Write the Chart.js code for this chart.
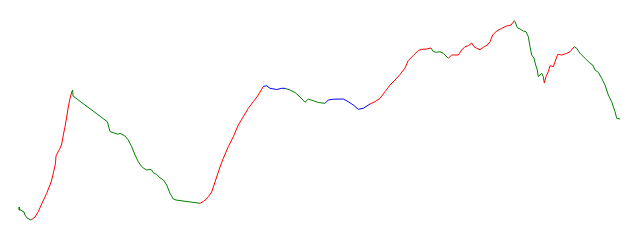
<!DOCTYPE html>
<html>
<head>
<meta charset="utf-8">
<script src="https://cdn.jsdelivr.net/npm/chart.js@4/dist/chart.umd.min.js"></script>
<style>
  html, body { margin: 0; padding: 0; background: #fff; }
  #wrap { width: 640px; height: 240px; position: relative; }
</style>
</head>
<body>
<div id="wrap"><canvas id="c"></canvas></div>
<script>
// Trading day index of each sample
const days = [
  0,0.3,2,3,5,6,8,10,12,
  16,19.3,22.7,26,27.7,29.3,31,32.7,34.3,35.5,36.5,37,39,41,42.7,44.3,46,47.7,49.3,51,52.7,53.7,
  54,88.3,89.5,91,96,99.3,101,106,109.3,112.7,116,119.3,122.7,124.3,127.7,131,132.7,134.3,137.7,141,144.3,147.7,151,154.3,157,181,
  184.3,187.7,189.5,192.7,196,198,201,204.3,209.3,214.3,219.3,224.3,229.3,234.3,239.3,244.3,
  247.7,251,257.7,262.7,266,
  271,276,281,286,289.3,294.3,299.3,306,
  309.3,314.3,324.3,329.3,334.3,339.3,344.3,351,
  356,361,366,371,376,381,386,389.3,394.3,399.3,402.7,407.7,412,
  414.3,417.7,421,424.3,429.3,
  432.7,439.3,442.7,446,449.3,452.7,455,457.7,461,464.3,468.3,471,473.7,477.7,482.7,487.7,492,495.3,
  496,498.3,501,504.3,507,509.3,511,512.7,515,516.7,518.3,519.3,522.7,524.3,525.3,
  527,529.3,531,534.3,536,538.7,542.7,547.7,551,555.3,
  557.7,561,566,571,573.7,576,579.3,582.7,586,589.3,592.7,596,597.7,601
];
// Price level of each sample
const values = [
  33,30,30,29,28,25,22,21,20,
  23,28.5,36,43,46.7,51,55,60,66.7,72,77,84,88,91.7,96,105,113.3,123,133,141.5,148,150,
  144,118.3,114,108.5,106.7,105.7,106.7,104,100,93.3,85,78.3,73.3,72,70,70.5,70,67.3,65.5,62.2,60.2,55,46.7,41,40,36.7,
  38.5,41.2,43.5,48,58,64,73,81.7,93.3,103.3,115,123.3,131.7,138.3,145,153.5,
  154.3,151.7,150.5,151.7,151.7,
  150,147.5,143,137.8,140.8,139.3,137.5,136.7,
  140,140.8,141,138.3,135,130.7,131.7,136,
  138.3,141.7,148.3,155,160,165.5,172,179.5,184.5,189.5,190.7,191,192,
  188.3,187.7,188.3,186.7,181.7,
  185,185,190,193.3,194.3,197,193.3,191.7,190.3,192.7,195,198.3,205,209,211.7,214,215,219.3,
  218.3,212.3,211,209,208.3,203.3,193.3,185,181.7,175,170,163.3,166.7,163.3,157,
  163.3,168.3,174.3,173.3,178.3,185.7,185,186.7,188.3,193.3,
  191.7,186.7,181.7,176.7,175,170,167.7,161.7,155,145,138.3,128.3,121.7,121
];
// Last sample index of each trend and its kind
const trendEnds  = [8, 30, 56, 72, 77, 85, 93, 106, 111, 129, 144, 154, 168];
const trendKinds = ['down','up','down','up','flat','down','flat','up','down','up','down','up','down'];
const kindColors = { up: '#ff0000', down: '#008000', flat: '#0000ff' };

function trendColor(i) {
  for (let t = 0; t < trendEnds.length; t++) {
    if (i < trendEnds[t]) return kindColors[trendKinds[t]];
  }
  return kindColors[trendKinds[trendKinds.length - 1]];
}

const points = days.map((d, i) => ({ x: d, y: values[i] }));

new Chart(document.getElementById('c'), {
  type: 'line',
  data: {
    datasets: [{
      data: points,
      borderWidth: 1,
      pointRadius: 0,
      tension: 0,
      fill: false,
      borderColor: '#008000',
      segment: {
        borderColor: ctx => trendColor(ctx.p0DataIndex)
      }
    }]
  },
  options: {
    responsive: true,
    maintainAspectRatio: false,
    animation: false,
    layout: { padding: 0 },
    plugins: { legend: { display: false }, tooltip: { enabled: false } },
    scales: {
      x: { type: 'linear', min: -19, max: 621, display: false },
      y: { min: 0, max: 240, display: false }
    }
  }
});
</script>
</body>
</html>
